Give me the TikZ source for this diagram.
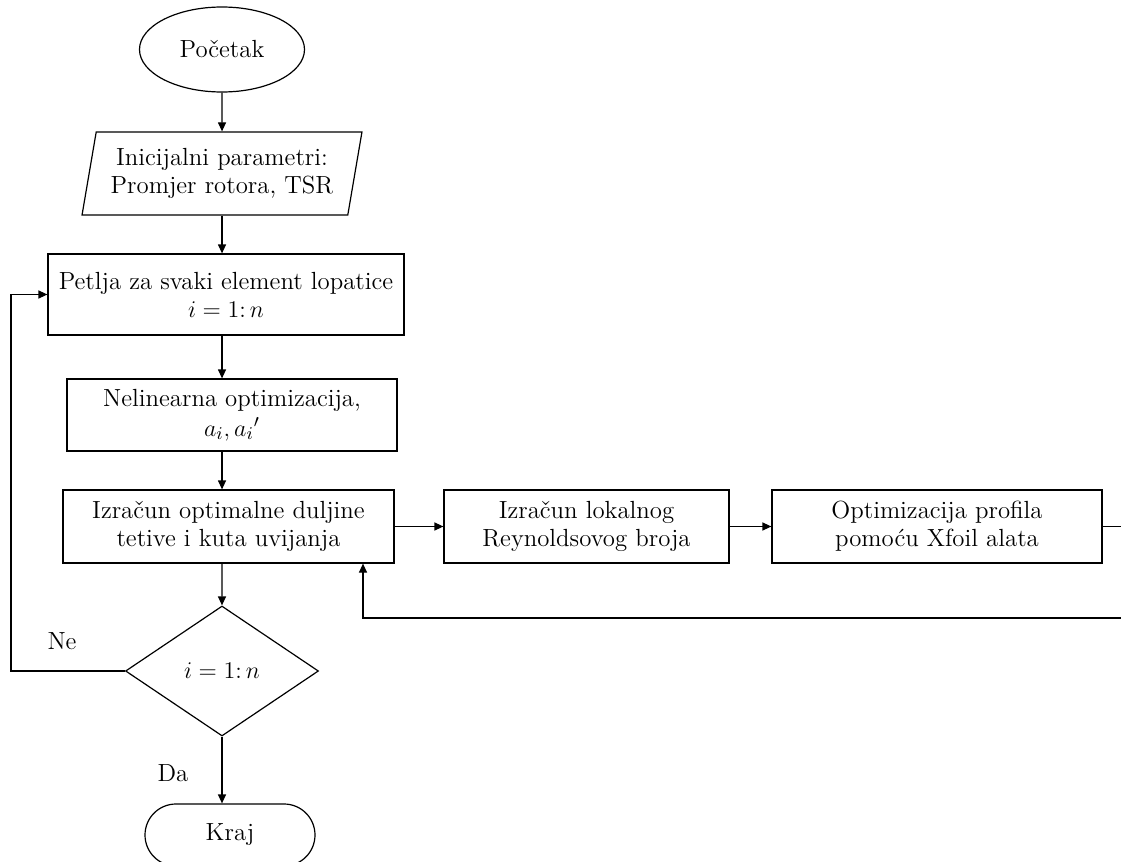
\documentclass[tikz,border=0pt]{standalone}
\usetikzlibrary{arrows.meta,shapes.geometric,shapes.misc}

\begin{document}
\begin{tikzpicture}[x=0.5pt, y=-0.5pt, >={Triangle[length=4.5pt,width=4pt]},
  line width=0.6pt, font=\fontsize{12.4}{14}\selectfont,
  box/.style={draw, rectangle, align=center, inner sep=0pt, minimum height=36.5pt},
  terminal/.style={draw, inner sep=0pt},
  io/.style={draw, trapezium, trapezium left angle=76, trapezium right angle=104,
    trapezium stretches=true, align=center, inner sep=0pt},
  decision/.style={draw, diamond, inner sep=0pt},
  lbl/.style={inner sep=0pt}]
\useasboundingbox (0,0) rectangle (1121,862);
% cvorovi
\node[terminal, ellipse, minimum width=82.5pt, minimum height=42.5pt] (start) at (222,49.5) {Početak};
\node[io, minimum width=140pt, minimum height=41.5pt] (input) at (222,173.5) {Inicijalni parametri:\\Promjer rotora, TSR};
\node[box, minimum width=178pt, minimum height=40.5pt] (loop) at (226,294.5) {Petlja za svaki element lopatice\\$i = 1{:}\,n$};
\node[box, minimum width=165pt, minimum height=36pt] (nlo) at (232,415) {Nelinearna optimizacija,\\[1pt]$a_i,{a_i}'$};
\node[box, minimum width=165.5pt] (izr) at (228.5,526.5) {Izračun optimalne duljine\\tetive i kuta uvijanja};
\node[box, minimum width=142.5pt] (lok) at (586.5,526.5) {Izračun lokalnog\\Reynoldsovog broja};
\node[box, minimum width=165pt] (opt) at (937,526.5) {Optimizacija profila\\pomoću Xfoil alata};
\node[decision, minimum width=96.5pt, minimum height=65pt] (dec) at (222,671) {$i = 1{:}\,n$};
\node[terminal, rounded rectangle, minimum width=85pt, minimum height=31pt] (kraj) at (230,835) {Kraj};
\node[lbl] (ne) at (62,641) {Ne};
\node[lbl] (da) at (173,773) {Da};
\coordinate (rt) at (1140,618);
\coordinate (back) at (363,618);
% veze
\draw[->] (start.south) -- (input.north);
\draw[->] (input.south) -- (input.south |- loop.north);
\draw[->] (loop.south -| input.south) -- (input.south |- nlo.north);
\draw[->] (nlo.south -| input.south) -- (input.south |- izr.north);
\draw[->] (izr.south -| input.south) -- (dec.north);
\draw[->] (dec.south) -- (dec.south |- kraj.north);
\draw[->] (izr.east) -- (lok.west);
\draw[->] (lok.east) -- (opt.west);
\draw[->] (opt.east) -| (rt) -- (back) -- (back |- izr.south);
\draw[->] (dec.west) -- ++(-114,0) |- (loop.west);
\end{tikzpicture}
\end{document}
